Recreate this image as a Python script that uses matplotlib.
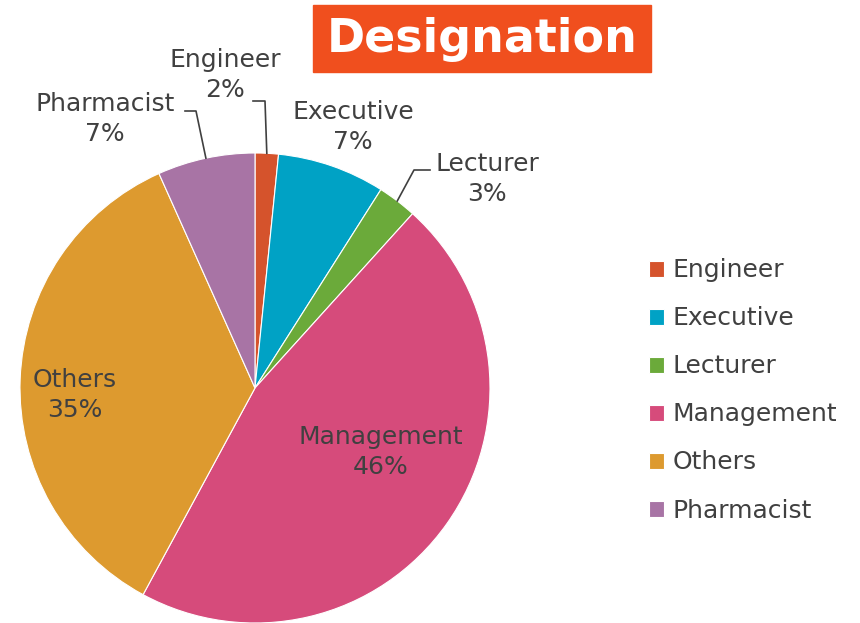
import numpy as np
import matplotlib.pyplot as plt
from matplotlib.patches import Rectangle

categories = ["Engineer", "Executive", "Lecturer", "Management", "Others", "Pharmacist"]
shares = [1.6, 7.4, 2.7, 46.2, 35.4, 6.7]
pct_labels = ["2%", "7%", "3%", "46%", "35%", "7%"]
colors = ["#D5532C", "#00A2C5", "#6BAA3A", "#D64B7B", "#DD9A2F", "#A874A5"]

text_col = "#404040"

W, H = 860, 623
fig = plt.figure(figsize=(W / 100, H / 100), dpi=100)

# pie placed in pixel terms: centre (255, 388), radius 235
cx, cy, r = 255, 388, 235
ax = fig.add_axes([(cx - r) / W, (H - cy - r) / H, 2 * r / W, 2 * r / H])
wedges, _ = ax.pie(shares, colors=colors, startangle=90, counterclock=False,
                   radius=1, wedgeprops=dict(linewidth=0.8, edgecolor="white"))
ax.set_xlim(-1, 1)
ax.set_ylim(-1, 1)
ax.set_aspect("equal")
ax.axis("off")

def px(x, y):
    # pixel position -> data coords of the pie axes
    return (x - cx) / r, (cy - y) / r

fs = 18

# inside labels
for i, (x, y) in [(3, (381, 452)), (4, (75, 395))]:
    ax.text(*px(x, y), categories[i] + "\n" + pct_labels[i], ha="center", va="center",
            fontsize=fs, color=text_col, linespacing=1.3)

# outside labels with leader lines: (label centre, elbow start, elbow end)
outside = {
    0: ((225, 75), (253, 101), (265, 101)),
    1: ((353, 127), None, None),
    2: ((487, 179), (430, 170), (414, 170)),
    5: ((105, 119), (185, 111), (196, 111)),
}
for i, (pos, p1, p2) in outside.items():
    ax.text(*px(*pos), categories[i] + "\n" + pct_labels[i], ha="center", va="center",
            fontsize=fs, color=text_col, linespacing=1.3)
    if p1 is None:
        continue
    w = wedges[i]
    mid = np.deg2rad((w.theta1 + w.theta2) / 2)
    edge = (np.cos(mid), np.sin(mid))
    a, b = px(*p1), px(*p2)
    ax.plot([a[0], b[0], edge[0]], [a[1], b[1], edge[1]], color=text_col,
            lw=1.2, clip_on=False)

# title block
fig.patches.append(Rectangle((313 / W, 1 - 72 / H), (651 - 313) / W, 67 / H,
                             transform=fig.transFigure, color="#F04F1E", zorder=0))
fig.text(482 / W, 1 - 40 / H, "Designation", ha="center", va="center",
         fontsize=33, fontweight="bold", color="white")

fig.legend(wedges, categories, loc="upper left", bbox_to_anchor=(636 / W, 1 - 246 / H),
           frameon=False, fontsize=fs, labelcolor=text_col, handlelength=0.6,
           handleheight=0.6, handletextpad=0.35, labelspacing=0.96, borderpad=0)

fig.savefig("out.png", dpi=100)
